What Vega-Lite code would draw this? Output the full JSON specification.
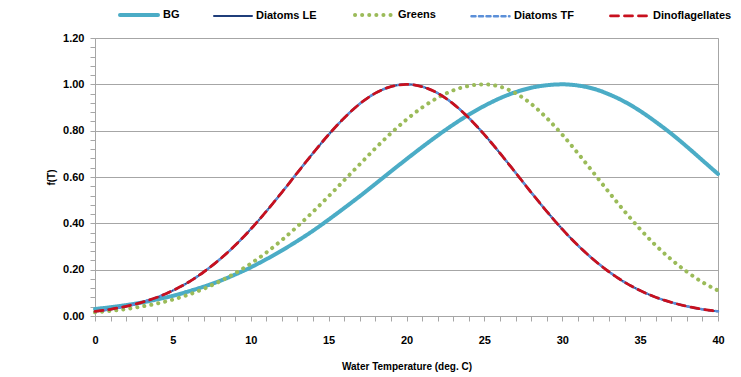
{
  "$schema": "https://vega.github.io/schema/vega-lite/v6.json",
  "autosize": {"type": "none"},
  "width": 623,
  "height": 278,
  "padding": {"left": 95, "top": 38, "right": 23, "bottom": 61},
  "background": "white",
  "config": {
    "view": {"stroke": "#A6A6A6", "strokeWidth": 1},
    "font": "Liberation Sans",
    "axis": {"labelFont": "Liberation Sans", "labelFontWeight": "bold", "labelFontSize": 11, "labelColor": "#000000", "titleFont": "Liberation Sans", "titleFontWeight": "bold", "titleFontSize": 10, "titleColor": "#000000", "domainColor": "#A6A6A6", "tickColor": "#A6A6A6", "gridColor": "#A6A6A6"},
    "legend": {"labelFont": "Liberation Sans", "labelFontWeight": "bold", "labelFontSize": 11, "labelColor": "#000000"}
  },
  "data": {"values": [
    {"T": 0, "BG": 0.030, "Diatoms LE": 0.020, "Greens": 0.016, "Diatoms TF": 0.020, "Dinoflagellates": 0.020},
    {"T": 1, "BG": 0.038, "Diatoms LE": 0.029, "Greens": 0.022, "Diatoms TF": 0.029, "Dinoflagellates": 0.029},
    {"T": 2, "BG": 0.047, "Diatoms LE": 0.042, "Greens": 0.030, "Diatoms TF": 0.042, "Dinoflagellates": 0.042},
    {"T": 3, "BG": 0.058, "Diatoms LE": 0.059, "Greens": 0.041, "Diatoms TF": 0.059, "Dinoflagellates": 0.059},
    {"T": 4, "BG": 0.072, "Diatoms LE": 0.081, "Greens": 0.054, "Diatoms TF": 0.081, "Dinoflagellates": 0.081},
    {"T": 5, "BG": 0.087, "Diatoms LE": 0.110, "Greens": 0.071, "Diatoms TF": 0.110, "Dinoflagellates": 0.110},
    {"T": 6, "BG": 0.106, "Diatoms LE": 0.146, "Greens": 0.092, "Diatoms TF": 0.146, "Dinoflagellates": 0.146},
    {"T": 7, "BG": 0.127, "Diatoms LE": 0.191, "Greens": 0.118, "Diatoms TF": 0.191, "Dinoflagellates": 0.191},
    {"T": 8, "BG": 0.151, "Diatoms LE": 0.244, "Greens": 0.149, "Diatoms TF": 0.244, "Dinoflagellates": 0.244},
    {"T": 9, "BG": 0.179, "Diatoms LE": 0.305, "Greens": 0.185, "Diatoms TF": 0.305, "Dinoflagellates": 0.305},
    {"T": 10, "BG": 0.210, "Diatoms LE": 0.375, "Greens": 0.226, "Diatoms TF": 0.375, "Dinoflagellates": 0.375},
    {"T": 11, "BG": 0.245, "Diatoms LE": 0.452, "Greens": 0.274, "Diatoms TF": 0.452, "Dinoflagellates": 0.452},
    {"T": 12, "BG": 0.283, "Diatoms LE": 0.534, "Greens": 0.328, "Diatoms TF": 0.534, "Dinoflagellates": 0.534},
    {"T": 13, "BG": 0.324, "Diatoms LE": 0.619, "Greens": 0.387, "Diatoms TF": 0.619, "Dinoflagellates": 0.619},
    {"T": 14, "BG": 0.368, "Diatoms LE": 0.703, "Greens": 0.450, "Diatoms TF": 0.703, "Dinoflagellates": 0.703},
    {"T": 15, "BG": 0.416, "Diatoms LE": 0.783, "Greens": 0.517, "Diatoms TF": 0.783, "Dinoflagellates": 0.783},
    {"T": 16, "BG": 0.466, "Diatoms LE": 0.855, "Greens": 0.586, "Diatoms TF": 0.855, "Dinoflagellates": 0.855},
    {"T": 17, "BG": 0.517, "Diatoms LE": 0.916, "Greens": 0.655, "Diatoms TF": 0.916, "Dinoflagellates": 0.916},
    {"T": 18, "BG": 0.570, "Diatoms LE": 0.962, "Greens": 0.724, "Diatoms TF": 0.962, "Dinoflagellates": 0.962},
    {"T": 19, "BG": 0.624, "Diatoms LE": 0.990, "Greens": 0.789, "Diatoms TF": 0.990, "Dinoflagellates": 0.990},
    {"T": 20, "BG": 0.677, "Diatoms LE": 1.000, "Greens": 0.848, "Diatoms TF": 1.000, "Dinoflagellates": 1.000},
    {"T": 21, "BG": 0.729, "Diatoms LE": 0.990, "Greens": 0.900, "Diatoms TF": 0.990, "Dinoflagellates": 0.990},
    {"T": 22, "BG": 0.779, "Diatoms LE": 0.962, "Greens": 0.942, "Diatoms TF": 0.962, "Dinoflagellates": 0.962},
    {"T": 23, "BG": 0.826, "Diatoms LE": 0.916, "Greens": 0.974, "Diatoms TF": 0.916, "Dinoflagellates": 0.916},
    {"T": 24, "BG": 0.869, "Diatoms LE": 0.855, "Greens": 0.993, "Diatoms TF": 0.855, "Dinoflagellates": 0.855},
    {"T": 25, "BG": 0.907, "Diatoms LE": 0.783, "Greens": 1.000, "Diatoms TF": 0.783, "Dinoflagellates": 0.783},
    {"T": 26, "BG": 0.940, "Diatoms LE": 0.703, "Greens": 0.990, "Diatoms TF": 0.703, "Dinoflagellates": 0.703},
    {"T": 27, "BG": 0.966, "Diatoms LE": 0.619, "Greens": 0.962, "Diatoms TF": 0.619, "Dinoflagellates": 0.619},
    {"T": 28, "BG": 0.985, "Diatoms LE": 0.534, "Greens": 0.916, "Diatoms TF": 0.534, "Dinoflagellates": 0.534},
    {"T": 29, "BG": 0.996, "Diatoms LE": 0.452, "Greens": 0.855, "Diatoms TF": 0.452, "Dinoflagellates": 0.452},
    {"T": 30, "BG": 1.000, "Diatoms LE": 0.375, "Greens": 0.783, "Diatoms TF": 0.375, "Dinoflagellates": 0.375},
    {"T": 31, "BG": 0.995, "Diatoms LE": 0.305, "Greens": 0.703, "Diatoms TF": 0.305, "Dinoflagellates": 0.305},
    {"T": 32, "BG": 0.981, "Diatoms LE": 0.244, "Greens": 0.619, "Diatoms TF": 0.244, "Dinoflagellates": 0.244},
    {"T": 33, "BG": 0.957, "Diatoms LE": 0.191, "Greens": 0.534, "Diatoms TF": 0.191, "Dinoflagellates": 0.191},
    {"T": 34, "BG": 0.925, "Diatoms LE": 0.146, "Greens": 0.452, "Diatoms TF": 0.146, "Dinoflagellates": 0.146},
    {"T": 35, "BG": 0.885, "Diatoms LE": 0.110, "Greens": 0.375, "Diatoms TF": 0.110, "Dinoflagellates": 0.110},
    {"T": 36, "BG": 0.838, "Diatoms LE": 0.081, "Greens": 0.305, "Diatoms TF": 0.081, "Dinoflagellates": 0.081},
    {"T": 37, "BG": 0.787, "Diatoms LE": 0.059, "Greens": 0.244, "Diatoms TF": 0.059, "Dinoflagellates": 0.059},
    {"T": 38, "BG": 0.731, "Diatoms LE": 0.042, "Greens": 0.191, "Diatoms TF": 0.042, "Dinoflagellates": 0.042},
    {"T": 39, "BG": 0.672, "Diatoms LE": 0.029, "Greens": 0.146, "Diatoms TF": 0.029, "Dinoflagellates": 0.029},
    {"T": 40, "BG": 0.613, "Diatoms LE": 0.020, "Greens": 0.110, "Diatoms TF": 0.020, "Dinoflagellates": 0.020}
  ]},
  "transform": [
    {"fold": ["BG", "Diatoms LE", "Greens", "Diatoms TF", "Dinoflagellates"], "as": ["series", "f"]}
  ],
  "encoding": {
    "x": {
      "field": "T", "type": "quantitative",
      "scale": {"domain": [0, 40], "nice": false, "zero": false},
      "axis": {
        "title": "Water Temperature (deg. C)",
        "values": [0,1,2,3,4,5,6,7,8,9,10,11,12,13,14,15,16,17,18,19,20,21,22,23,24,25,26,27,28,29,30,31,32,33,34,35,36,37,38,39,40],
        "labelExpr": "datum.value % 5 == 0 ? datum.label : ''",
        "labelOverlap": false,
        "labelFlush": false,
        "grid": false,
        "tickSize": 5,
        "labelPadding": 13,
        "titlePadding": 16
      }
    },
    "y": {
      "field": "f", "type": "quantitative",
      "scale": {"domain": [0, 1.2], "nice": false},
      "axis": {
        "title": "f(T)",
        "values": [0,0.04,0.08,0.12,0.16,0.2,0.24,0.28,0.32,0.36,0.4,0.44,0.48,0.52,0.56,0.6,0.64,0.68,0.72,0.76,0.8,0.84,0.88,0.92,0.96,1,1.04,1.08,1.12,1.16,1.2],
        "labelExpr": "abs(datum.value*5 - round(datum.value*5)) < 0.001 ? format(datum.value, '.2f') : ''",
        "labelOverlap": false,
        "labelFlush": false,
        "grid": true,
        "gridOpacity": {"condition": {"test": "abs(datum.value*5 - round(datum.value*5)) > 0.001", "value": 0}, "value": 1},
        "tickSize": 5,
        "labelPadding": 6,
        "titlePadding": 6
      }
    },
    "color": {
      "field": "series", "type": "nominal",
      "scale": {"domain": ["BG", "Diatoms LE", "Greens", "Diatoms TF", "Dinoflagellates"], "range": ["#4BACC6", "#1F3D7A", "#9BBB59", "#5B8FD8", "#C8101E"]},
      "legend": {
        "title": null,
        "orient": "none",
        "legendX": 23,
        "legendY": -44,
        "direction": "horizontal",
        "symbolType": "stroke",
        "symbolSize": 1444,
        "labelOffset": 3,
        "columnPadding": 30,
        "encode": {"symbols": {"update": {"strokeCap": {"value": "round"}}}}
      }
    },
    "strokeDash": {
      "field": "series", "type": "nominal",
      "scale": {"domain": ["BG", "Diatoms LE", "Greens", "Diatoms TF", "Dinoflagellates"], "range": [[1, 0], [1, 0], [0.1, 7], [4, 3.5], [8, 6]]},
      "legend": null
    },
    "strokeWidth": {
      "field": "series", "type": "nominal",
      "scale": {"type": "ordinal", "domain": ["BG", "Diatoms LE", "Greens", "Diatoms TF", "Dinoflagellates"], "range": [4, 2, 4, 2.5, 2.8]},
      "legend": null
    }
  },
  "layer": [
    {"transform": [{"filter": "datum.series == 'BG'"}], "mark": {"type": "line", "interpolate": "monotone", "strokeCap": "round", "clip": false}},
    {"transform": [{"filter": "datum.series == 'Diatoms LE'"}], "mark": {"type": "line", "interpolate": "monotone", "strokeCap": "round", "clip": false}},
    {"transform": [{"filter": "datum.series == 'Greens'"}], "mark": {"type": "line", "interpolate": "monotone", "strokeCap": "round", "clip": false}},
    {"transform": [{"filter": "datum.series == 'Diatoms TF'"}], "mark": {"type": "line", "interpolate": "monotone", "strokeCap": "round", "clip": false}},
    {"transform": [{"filter": "datum.series == 'Dinoflagellates'"}], "mark": {"type": "line", "interpolate": "monotone", "strokeCap": "round", "clip": false}}
  ]
}
